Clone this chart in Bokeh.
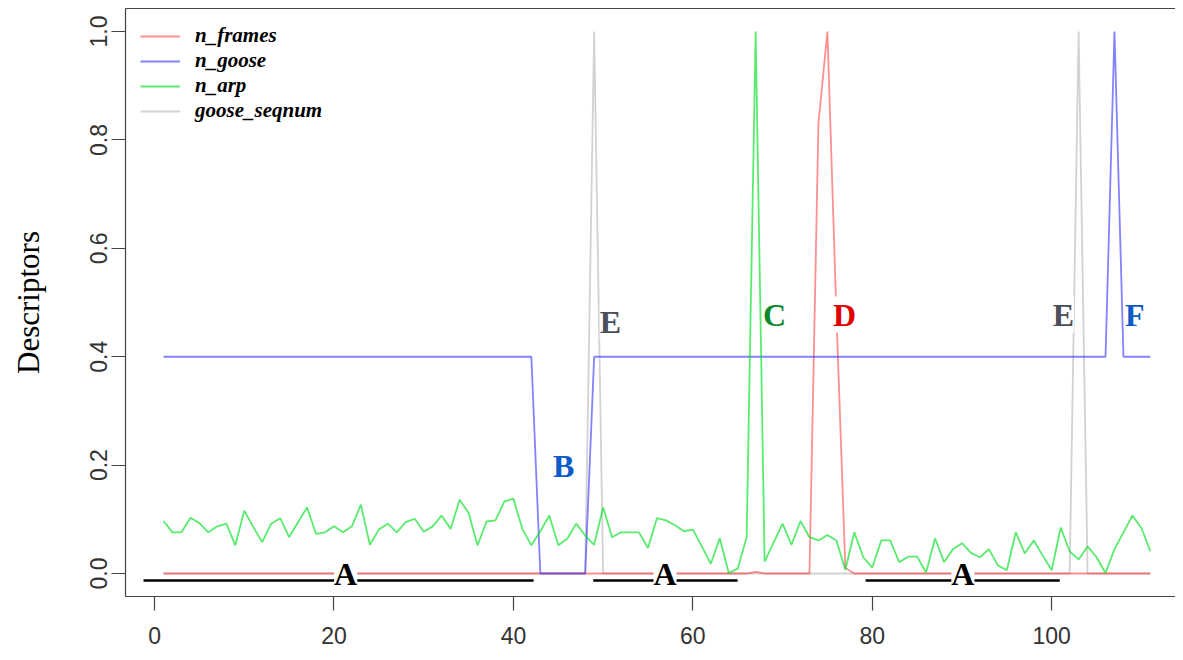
import numpy as np
from bokeh.plotting import figure
from bokeh.models import (Range1d, LinearAxis, FixedTicker, Legend, LegendItem,
                          ColumnDataSource, LabelSet, CustomJSTickFormatter)
from bokeh.embed import file_html
from bokeh.resources import INLINE

# ---------------- data ----------------
sample = list(range(1, 112))

n_frames = [0.0] * 66 + [0.003] + [0.0] * 6 + [0.83, 1.0, 0.48, 0.01] + [0.0] * 34

n_goose = [0.4] * 42 + [0.0] * 6 + [0.4] * 58 + [1.0] + [0.4] * 4

n_arp = [0.097, 0.076, 0.076, 0.103, 0.093, 0.076, 0.087, 0.092, 0.052, 0.116,
         0.086, 0.058, 0.092, 0.102, 0.067, 0.095, 0.122, 0.073, 0.076, 0.087,
         0.076, 0.087, 0.127, 0.053, 0.081, 0.092, 0.076, 0.095, 0.101, 0.077,
         0.087, 0.107, 0.082, 0.136, 0.112, 0.052, 0.096, 0.098, 0.133, 0.138,
         0.082, 0.052, 0.078, 0.107, 0.052, 0.064, 0.092, 0.070, 0.053, 0.122,
         0.067, 0.076, 0.076, 0.076, 0.047, 0.102, 0.098, 0.089, 0.078, 0.081,
         0.050, 0.018, 0.065, 0.001, 0.009, 0.067, 1.000, 0.022, 0.057, 0.092,
         0.053, 0.097, 0.067, 0.061, 0.071, 0.061, 0.007, 0.076, 0.030, 0.011,
         0.061, 0.061, 0.021, 0.031, 0.031, 0.002, 0.065, 0.021, 0.045, 0.056,
         0.038, 0.030, 0.045, 0.015, 0.006, 0.076, 0.037, 0.061, 0.033, 0.006,
         0.085, 0.041, 0.026, 0.050, 0.030, 0.001, 0.045, 0.076, 0.107, 0.084,
         0.041]

goose_seqnum = [0.0] * 48 + [1.0] + [0.0] * 53 + [1.0] + [0.0] * 8

series_names = ["n_frames", "n_goose", "n_arp", "goose_seqnum"]

x_ticks = [0, 20, 40, 60, 80, 100]
y_ticks = [0.0, 0.2, 0.4, 0.6, 0.8, 1.0]

# annotation letters
mark_text = ["B", "C", "D", "E", "E", "F"]
mark_x = [45.6, 69.1, 76.9, 50.8, 101.3, 109.25]
mark_y = [0.179, 0.4576, 0.4576, 0.4446, 0.4576, 0.4576]
mark_color = ["#0a5ac8", "#0a8a2a", "#e00000", "#4a5058", "#4a5058", "#0a5ac8"]

# "A" regions
region_text = ["A", "A", "A"]
region_mid = [21.3, 56.9, 90.1]
region_start = [-1.23, 48.9, 79.26]
region_end = [42.25, 64.99, 100.9]
region_level = [-0.013, -0.013, -0.013]
region_text_y = [-0.0221, -0.0221, -0.0221]

# ---------------- figure ----------------
p = figure(width=1175, height=652,
           x_range=Range1d(-3.24, 113.8), y_range=Range1d(-0.0424, 1.0425),
           output_backend="svg", toolbar_location=None,
           min_border_left=125, min_border_right=0, min_border_top=8,
           min_border_bottom=56)
p.xgrid.visible = False
p.ygrid.visible = False
p.outline_line_color = None
p.background_fill_color = "white"
p.border_fill_color = "white"

src = ColumnDataSource(dict(x=sample, n_frames=n_frames, n_goose=n_goose,
                            n_arp=n_arp, goose_seqnum=goose_seqnum))

r_gray = p.line("x", "goose_seqnum", source=src, line_color="#d2d2d2", line_width=1.8)
r_red = p.line("x", "n_frames", source=src, line_color="#ff2020", line_alpha=0.5, line_width=1.8)
r_blue = p.line("x", "n_goose", source=src, line_color="#3030ff", line_alpha=0.6, line_width=1.8)
r_green = p.line("x", "n_arp", source=src, line_color="#00e020", line_alpha=0.65, line_width=1.8)

# region segments
rsrc = ColumnDataSource(dict(x0=region_start, x1=region_end, y=region_level,
                             xm=region_mid, ty=region_text_y, t=region_text))
p.segment(x0="x0", y0="y", x1="x1", y1="y", source=rsrc, line_color="black", line_width=2.6)

p.add_layout(LabelSet(x="xm", y="ty", text="t", source=rsrc, text_align="center",
                      text_baseline="alphabetic", text_font="Liberation Serif",
                      text_font_style="bold", text_font_size="32px", text_color="black",
                      background_fill_color="white"))

msrc = ColumnDataSource(dict(x=mark_x, y=mark_y, t=mark_text, c=mark_color))
p.add_layout(LabelSet(x="x", y="y", text="t", source=msrc, text_align="center",
                      text_baseline="alphabetic", text_font="Liberation Serif",
                      text_font_style="bold", text_font_size="32px", text_color="c",
                      background_fill_color="white"))

# axes
ax_col = "#444444"
p.xaxis.ticker = FixedTicker(ticks=x_ticks)
p.yaxis.ticker = FixedTicker(ticks=y_ticks)
p.yaxis.formatter = CustomJSTickFormatter(code="return tick.toFixed(1);")
for ax in (p.xaxis[0], p.yaxis[0]):
    ax.axis_line_color = ax_col
    ax.axis_line_width = 1.2
    ax.major_tick_line_color = ax_col
    ax.major_tick_line_width = 1.2
    ax.major_tick_in = 0
    ax.major_tick_out = 14
    ax.minor_tick_line_color = None
    ax.major_label_text_font = "Liberation Sans"
    ax.major_label_text_font_size = "23px"
    ax.major_label_text_color = "#333333"
p.xaxis.major_label_standoff = 16
p.yaxis.major_label_orientation = "vertical"
p.yaxis.major_label_standoff = 4
p.yaxis.axis_label = "Descriptors"
p.yaxis.axis_label_text_font = "Liberation Serif"
p.yaxis.axis_label_text_font_style = "normal"
p.yaxis.axis_label_text_font_size = "31px"
p.yaxis.axis_label_text_color = "black"
p.yaxis.axis_label_standoff = 42

top = LinearAxis(ticker=FixedTicker(ticks=[]), axis_line_color=ax_col, axis_line_width=1.2,
                 major_tick_out=0, major_tick_in=0, minor_tick_line_color=None,
                 major_label_standoff=0, major_label_text_font_size="0px")
p.add_layout(top, "above")

legend = Legend(items=[LegendItem(label=series_names[0], renderers=[r_red]),
                       LegendItem(label=series_names[1], renderers=[r_blue]),
                       LegendItem(label=series_names[2], renderers=[r_green]),
                       LegendItem(label=series_names[3], renderers=[r_gray])],
                location="top_left", margin=5, padding=10,
                glyph_width=40, glyph_height=16, label_standoff=15,
                label_height=20, spacing=0,
                label_text_font="Liberation Serif", label_text_font_style="bold italic",
                label_text_font_size="21px", label_text_color="black",
                background_fill_alpha=0, border_line_alpha=0)
p.add_layout(legend, "center")

open("out.html", "w").write(file_html(p, INLINE))
